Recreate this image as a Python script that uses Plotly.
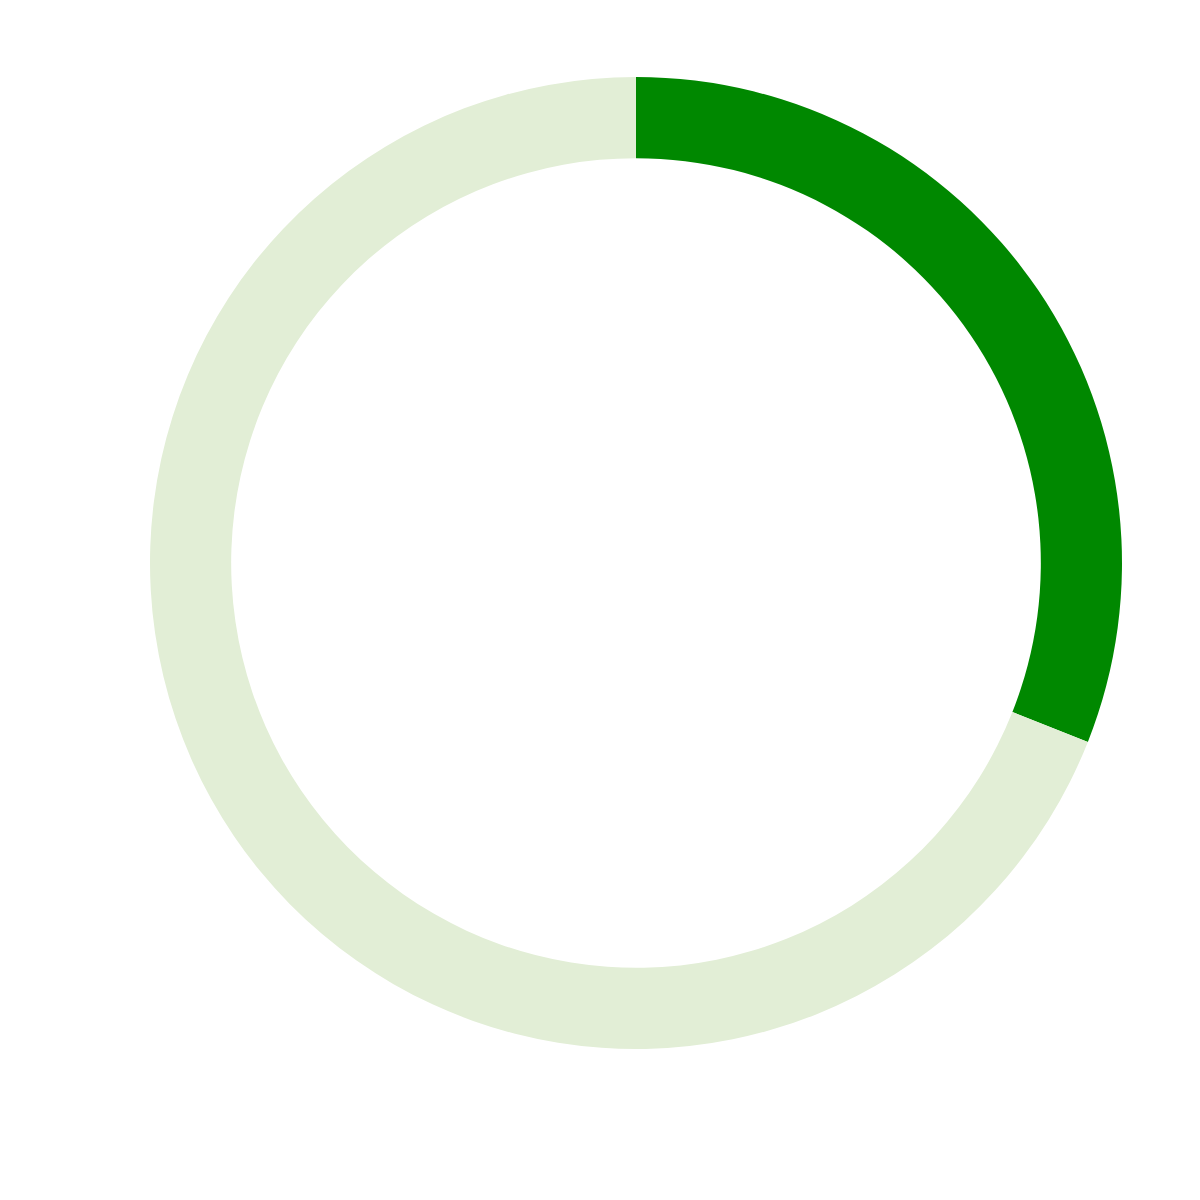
import plotly.graph_objects as go

labels = ["Value", "Remaining"]
values = [31, 69]
colors = ["#008800", "#e2eed6"]

fig = go.Figure(go.Pie(
    labels=labels,
    values=values,
    hole=0.833,
    sort=False,
    direction="clockwise",
    rotation=0,
    marker=dict(colors=colors, line=dict(width=0)),
    textinfo="none",
    hoverinfo="label+value",
))
fig.update_layout(
    width=1200, height=1200,
    showlegend=False,
    margin=dict(l=142, r=86, t=69, b=159),
    paper_bgcolor="white",
    plot_bgcolor="white",
)
fig.write_html("out.html")
